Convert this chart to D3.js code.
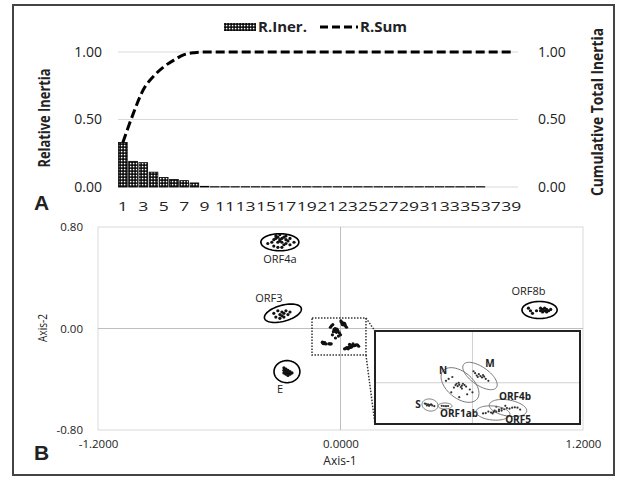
<html>
<head>
<meta charset="utf-8">
<script src="https://d3js.org/d3.v7.min.js"></script>
<style>
  body { margin: 0; background: #fff; }
  text { font-family: "Open Sans", sans-serif; fill: #222; }
</style>
</head>
<body>
<script>
// ---- panel A data (scree plot) ----
const dims = d3.range(1, 40);
const relInertia = [0.33, 0.19, 0.18, 0.11, 0.07, 0.055, 0.047, 0.03, 0.005,
  0.002, 0.002, 0.002, 0.002, 0.002, 0.002, 0.002, 0.002, 0.002, 0.002,
  0.002, 0.002, 0.002, 0.002, 0.002, 0.002, 0.002, 0.002, 0.002, 0.002,
  0.002, 0.002, 0.002, 0.002, 0.002, 0.002, 0.002, 0, 0, 0];
const cumInertia = [0.33, 0.54, 0.72, 0.82, 0.89, 0.94, 0.98, 0.995, 1.0,
  1, 1, 1, 1, 1, 1, 1, 1, 1, 1, 1, 1, 1, 1, 1, 1, 1, 1, 1, 1, 1,
  1, 1, 1, 1, 1, 1, 1, 1, 1];
const yTicksA = [0, 0.5, 1];

// ---- panel B data (biplot) ----
const xTicksB = [-1.2, 0, 1.2];
const yTicksB = [-0.8, 0, 0.8];

// outer clusters (drawn in main plot with ellipses)
const outerNames = ["ORF4a", "ORF3", "E", "ORF8b"];
const outerCenters = [[-0.30, 0.68], [-0.285, 0.12], [-0.265, -0.34], [0.985, 0.146]];
// ellipse conjugate semi-axes [ax, ay, bx, by] in data units
const outerAxes = [[0.094, 0, 0, 0.067], [0.091, 0.039, 0.010, -0.061],
                   [0.064, 0, 0, 0.087], [0.087, 0, 0, 0.067]];
const outerPoints = [
  [[-0.33,0.70],[-0.32,0.71],[-0.31,0.72],[-0.30,0.70],[-0.29,0.71],[-0.28,0.72],[-0.27,0.70],
   [-0.30,0.69],[-0.31,0.68],[-0.29,0.68],[-0.28,0.66],[-0.27,0.67],[-0.26,0.69],[-0.25,0.71],
   [-0.34,0.68],[-0.36,0.67],[-0.33,0.65],[-0.31,0.64],[-0.29,0.64],[-0.25,0.66],[-0.23,0.68],
   [-0.32,0.73],[-0.30,0.74],[-0.27,0.73]],
  [[-0.33,0.12],[-0.31,0.14],[-0.30,0.11],[-0.29,0.13],[-0.29,0.10],[-0.28,0.12],
   [-0.27,0.14],[-0.26,0.11],[-0.30,0.08],[-0.32,0.09],[-0.25,0.13],[-0.28,0.09]],
  [[-0.28,-0.31],[-0.27,-0.32],[-0.28,-0.33],[-0.27,-0.34],[-0.26,-0.33],[-0.26,-0.35],
   [-0.25,-0.34],[-0.27,-0.36],[-0.26,-0.37],[-0.25,-0.36],[-0.28,-0.35],[-0.24,-0.35]],
  [[0.93,0.16],[0.94,0.14],[0.95,0.12],[0.97,0.14],[0.99,0.14],[1.00,0.15],[1.01,0.14],
   [1.02,0.15],[1.01,0.16],[1.00,0.13],[1.03,0.14],[1.02,0.13],[0.99,0.16],[1.04,0.15]]
];

// inner clusters near the origin (shown again in the zoomed inset)
const innerNames = ["N", "M", "S", "ORF1ab", "ORF4b", "ORF5"];
const innerCenters = [[-0.0235, -0.0116], [0.0142, 0.0353], [-0.0802, -0.116],
                      [-0.0518, -0.121], [0.0671, -0.1316], [0.0388, -0.1576]];
const innerAxes = [[0.032, -0.074, -0.016, -0.052], [0.031, -0.060, -0.0098, -0.0386],
                   [0.0149, -0.0073, -0.0019, -0.0308], [0.0132, 0, 0, -0.0156],
                   [0.0353, -0.0172, -0.0026, -0.0412], [0.0319, -0.0078, -0.0011, -0.0365]];
const innerPoints = [
  [[-0.030,-0.005],[-0.025,-0.010],[-0.020,-0.015],[-0.028,-0.018],[-0.018,-0.005],
   [-0.022,-0.022],[-0.032,-0.012],[-0.015,-0.012],[-0.026,0.000],[-0.012,-0.020],
   [-0.035,-0.025],[-0.020,-0.030],[-0.045,0.020],[-0.040,-0.050],[-0.010,-0.060],
   [-0.005,-0.035],[-0.050,0.010],[-0.038,0.030],[0.000,-0.050],[-0.025,-0.075]],
  [[0.010,0.030],[0.015,0.035],[0.020,0.040],[0.012,0.045],[0.018,0.028],[0.008,0.038],
   [0.022,0.032],[0.005,0.050],[0.025,0.020],[0.002,0.060],[0.030,0.010]],
  [[-0.088,-0.110],[-0.084,-0.112],[-0.080,-0.115],[-0.076,-0.118],[-0.082,-0.120],
   [-0.078,-0.112],[-0.086,-0.118],[-0.072,-0.122],[-0.090,-0.108]],
  [[-0.058,-0.120],[-0.054,-0.121],[-0.050,-0.122],[-0.046,-0.121]],
  [[0.050,-0.140],[0.055,-0.135],[0.060,-0.138],[0.065,-0.132],[0.070,-0.135],[0.075,-0.130],
   [0.080,-0.128],[0.085,-0.130],[0.045,-0.125],[0.090,-0.140],[0.062,-0.120]],
  [[0.030,-0.150],[0.035,-0.155],[0.040,-0.152],[0.045,-0.150],[0.038,-0.160],
   [0.025,-0.158],[0.050,-0.148],[0.020,-0.160],[0.042,-0.145],[0.055,-0.145]]
];
const zoomBox = [[-0.141, 0.083], [0.126, -0.209]];

// label offsets in px (layout only)
const outerLabelOff = [[0, 21], [-14, -11], [-7, 21], [-11, -15]];
const innerLabelOff = [[-17, -11], [10, -9], [-12, 3], [14, 11], [7, -8], [25, 10]];

const w = 625, h = 477;
const svg = d3.select("body").append("svg").attr("width", w).attr("height", h);

// outer frame
svg.append("rect").attr("x", 13).attr("y", 5).attr("width", 601).attr("height", 470)
   .attr("fill", "none").attr("stroke", "#444").attr("stroke-width", 2);

// checker pattern for bars
const pat = svg.append("defs").append("pattern").attr("id", "checker")
   .attr("patternUnits", "userSpaceOnUse").attr("width", 3).attr("height", 3);
pat.append("rect").attr("width", 3).attr("height", 3).attr("fill", "#000");
pat.append("rect").attr("x", 0.8).attr("y", 0.8).attr("width", 1.6).attr("height", 1.6).attr("fill", "#fff");

// ================= Panel A =================
const gx0 = 118, gx1 = 518;
const xA = d3.scaleBand().domain(dims).range([gx0, 516]).paddingInner(0.15).paddingOuter(0.05);
const yA = d3.scaleLinear().domain([0, 1]).range([187, 52]);

svg.append("g").selectAll("line").data(yTicksA).enter().append("line")
   .attr("x1", gx0).attr("x2", gx1).attr("y1", d => yA(d)).attr("y2", d => yA(d))
   .attr("stroke", "#d9d9d9").attr("stroke-width", 1);

svg.append("g").selectAll("rect").data(relInertia).enter().append("rect")
   .attr("x", (d, i) => xA(dims[i]))
   .attr("y", d => yA(d))
   .attr("width", xA.bandwidth())
   .attr("height", d => yA(0) - yA(d))
   .attr("fill", "url(#checker)")
   .attr("stroke", "#000").attr("stroke-width", 0.8);

const cumLine = d3.line()
   .x((d, i) => xA(dims[i]) + xA.bandwidth() / 2)
   .y(d => yA(d))
   .curve(d3.curveMonotoneX);
svg.append("path").datum(cumInertia).attr("d", cumLine)
   .attr("fill", "none").attr("stroke", "#000").attr("stroke-width", 3)
   .attr("stroke-dasharray", "9,4");

const axLeftA = svg.append("g").attr("transform", "translate(" + gx0 + ",0)")
   .call(d3.axisLeft(yA).tickValues(yTicksA).tickSize(0).tickPadding(16).tickFormat(d => d.toFixed(2)));
const axRightA = svg.append("g").attr("transform", "translate(" + gx1 + ",0)")
   .call(d3.axisRight(yA).tickValues(yTicksA).tickSize(0).tickPadding(20).tickFormat(d => d.toFixed(2)));
[axLeftA, axRightA].forEach(g => {
  g.select(".domain").remove();
  g.selectAll("text").style("font-family", "Open Sans").style("font-size", "14px").attr("fill", "#222");
});
const axBottomA = svg.append("g").attr("transform", "translate(0,187)")
   .call(d3.axisBottom(xA).tickValues(dims.filter(d => d % 2 === 1)).tickSize(0).tickPadding(14));
axBottomA.select(".domain").remove();
axBottomA.selectAll("text").style("font-family", "Open Sans").style("font-size", "13.5px")
   .attr("fill", "#222").attr("transform", "scale(1.3,1)");

svg.append("text").attr("transform", "translate(50,118) rotate(-90)")
   .attr("text-anchor", "middle").style("font-size", "16px").style("font-weight", "bold")
   .attr("textLength", 99).attr("lengthAdjust", "spacingAndGlyphs").text("Relative Inertia");
svg.append("text").attr("transform", "translate(603,112) rotate(-90)")
   .attr("text-anchor", "middle").style("font-size", "16px").style("font-weight", "bold")
   .attr("textLength", 168).attr("lengthAdjust", "spacingAndGlyphs").text("Cumulative Total Inertia");

// legend
svg.append("rect").attr("x", 224).attr("y", 23).attr("width", 32).attr("height", 8)
   .attr("fill", "url(#checker)");
svg.append("text").attr("x", 258).attr("y", 32).style("font-size", "15px").style("font-weight", "bold")
   .text("R.Iner.");
svg.append("line").attr("x1", 320).attr("x2", 358).attr("y1", 27).attr("y2", 27)
   .attr("stroke", "#000").attr("stroke-width", 3).attr("stroke-dasharray", "8,4");
svg.append("text").attr("x", 360).attr("y", 32).style("font-size", "15px").style("font-weight", "bold")
   .text("R.Sum");

svg.append("text").attr("x", 34).attr("y", 210).style("font-family", "Liberation Sans, Arial")
   .style("font-size", "21px").style("font-weight", "bold").attr("fill", "#000").text("A");

// ================= Panel B =================
const xB = d3.scaleLinear().domain([-1.2, 1.2]).range([98, 583]);
const yB = d3.scaleLinear().domain([-0.8, 0.8]).range([430, 227]);

svg.append("rect").attr("x", xB(-1.2)).attr("y", yB(0.8))
   .attr("width", xB(1.2) - xB(-1.2)).attr("height", yB(-0.8) - yB(0.8))
   .attr("fill", "none").attr("stroke", "#d9d9d9");
svg.append("line").attr("x1", xB(0)).attr("x2", xB(0)).attr("y1", yB(0.8)).attr("y2", yB(-0.8))
   .attr("stroke", "#bfbfbf");
svg.append("line").attr("x1", xB(-1.2)).attr("x2", xB(1.2)).attr("y1", yB(0)).attr("y2", yB(0))
   .attr("stroke", "#bfbfbf");

const axXB = svg.append("g").attr("transform", "translate(0,430)")
   .call(d3.axisBottom(xB).tickValues(xTicksB).tickSize(0).tickPadding(10).tickFormat(d => d.toFixed(4)));
const axYB = svg.append("g").attr("transform", "translate(98,0)")
   .call(d3.axisLeft(yB).tickValues(yTicksB).tickSize(0).tickPadding(15).tickFormat(d => d.toFixed(2)));
[axXB, axYB].forEach(g => {
  g.select(".domain").remove();
  g.selectAll("text").style("font-family", "Open Sans").style("font-size", "11.5px").attr("fill", "#222");
});

svg.append("text").attr("x", 340).attr("y", 465).attr("text-anchor", "middle")
   .style("font-size", "12px").text("Axis-1");
svg.append("text").attr("transform", "translate(47,328) rotate(-90)").attr("text-anchor", "middle")
   .style("font-size", "12px").attr("textLength", 28).attr("lengthAdjust", "spacingAndGlyphs").text("Axis-2");

svg.append("text").attr("x", 34).attr("y", 460).style("font-family", "Liberation Sans, Arial")
   .style("font-size", "21px").style("font-weight", "bold").attr("fill", "#000").text("B");

function ellipsePath(c, ax, sx, sy) {
  const pts = d3.range(0, 2 * Math.PI + 0.01, Math.PI / 36).map(t => [
    sx(c[0] + ax[0] * Math.cos(t) + ax[2] * Math.sin(t)),
    sy(c[1] + ax[1] * Math.cos(t) + ax[3] * Math.sin(t))
  ]);
  return d3.line()(pts) + "Z";
}

// outer clusters
outerNames.forEach((name, i) => {
  const g = svg.append("g");
  g.selectAll("circle").data(outerPoints[i]).enter().append("circle")
   .attr("cx", d => xB(d[0])).attr("cy", d => yB(d[1])).attr("r", 1.6).attr("fill", "#111");
  g.append("path").attr("d", ellipsePath(outerCenters[i], outerAxes[i], xB, yB))
   .attr("fill", "none").attr("stroke", "#000").attr("stroke-width", 1.6);
  g.append("text").attr("x", xB(outerCenters[i][0]) + outerLabelOff[i][0])
   .attr("y", yB(outerCenters[i][1]) + outerLabelOff[i][1])
   .attr("text-anchor", "middle").style("font-size", "11px").text(name);
});

// inner clusters in main plot
innerPoints.forEach(pts => {
  svg.append("g").selectAll("circle").data(pts).enter().append("circle")
   .attr("cx", d => xB(d[0])).attr("cy", d => yB(d[1])).attr("r", 1.6).attr("fill", "#111");
});

// zoom box and connectors
const bx0 = xB(zoomBox[0][0]), by0 = yB(zoomBox[0][1]);
const bx1 = xB(zoomBox[1][0]), by1 = yB(zoomBox[1][1]);
const dotted = { stroke: "#333", "stroke-width": 1.5, "stroke-dasharray": "1.5,1.5", fill: "none" };
const zb = svg.append("rect").attr("x", bx0).attr("y", by0).attr("width", bx1 - bx0).attr("height", by1 - by0);
Object.entries(dotted).forEach(([k, v]) => zb.attr(k, v));

// inset
const xI = d3.scaleLinear().domain([-0.184, 0.203]).range([375, 580]);
const yI = d3.scaleLinear().domain([-0.215, 0.27]).range([424, 331]);

[[bx1, by0, 375, 331], [bx1, by1, 375, 424]].forEach(l => {
  const ln = svg.append("line").attr("x1", l[0]).attr("y1", l[1]).attr("x2", l[2]).attr("y2", l[3]);
  Object.entries(dotted).forEach(([k, v]) => ln.attr(k, v));
});

svg.append("rect").attr("x", 375).attr("y", 331).attr("width", 205).attr("height", 93)
   .attr("fill", "#fff").attr("stroke", "none");
svg.append("line").attr("x1", xI(0)).attr("x2", xI(0)).attr("y1", 331).attr("y2", 424).attr("stroke", "#d0d0d0");
svg.append("line").attr("x1", 375).attr("x2", 580).attr("y1", yI(0)).attr("y2", yI(0)).attr("stroke", "#d0d0d0");

innerNames.forEach((name, i) => {
  const g = svg.append("g");
  g.append("path").attr("d", ellipsePath(innerCenters[i], innerAxes[i], xI, yI))
   .attr("fill", "none").attr("stroke", "#777").attr("stroke-width", 1);
  g.selectAll("circle").data(innerPoints[i]).enter().append("circle")
   .attr("cx", d => xI(d[0])).attr("cy", d => yI(d[1])).attr("r", 1.1).attr("fill", "#333");
  g.append("text").attr("x", xI(innerCenters[i][0]) + innerLabelOff[i][0])
   .attr("y", yI(innerCenters[i][1]) + innerLabelOff[i][1])
   .attr("text-anchor", "middle").style("font-size", "10px").style("font-weight", "bold").text(name);
});

svg.append("rect").attr("x", 375).attr("y", 331).attr("width", 205).attr("height", 93)
   .attr("fill", "none").attr("stroke", "#222").attr("stroke-width", 2);
</script>
</body>
</html>
